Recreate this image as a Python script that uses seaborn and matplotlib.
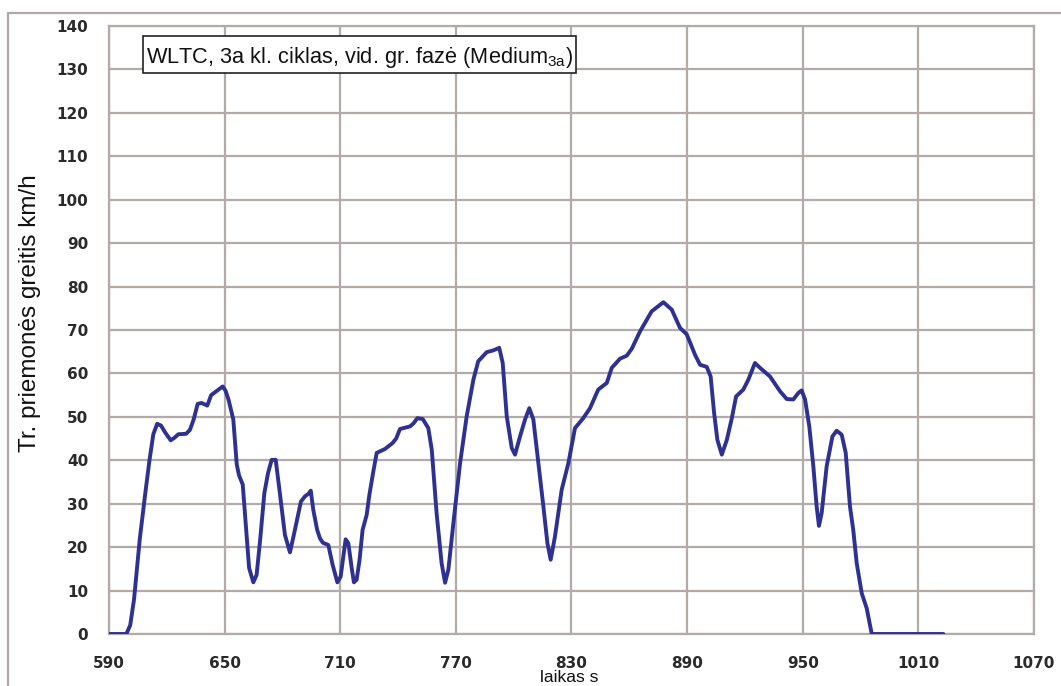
import matplotlib
matplotlib.use("Agg")
import matplotlib.pyplot as plt
from matplotlib.patches import Rectangle
from matplotlib.lines import Line2D
from matplotlib.ticker import MultipleLocator
import seaborn as sns
import pandas as pd

# ---- data ----
time_s = [590, 599, 601, 603, 606, 609, 611, 613, 615, 617, 619, 622, 624, 626, 630,
          632, 634, 636, 638, 641, 643, 646, 649, 650.5, 652, 654.5, 656.3, 657.5, 659.4,
          661, 662.7, 664.9, 666.6, 668.5, 670.6, 672.5, 674.4, 676.5, 678.5, 681.3, 683.9,
          686, 689.6, 691.7, 693.5, 694.7, 696, 698, 699.5, 701, 703.8, 706, 708.5, 710.2,
          712.8, 714.2, 716, 717.1, 718.5, 720, 721.6, 723.7, 725.1, 727, 728.9, 733.2,
          737.2, 739, 741, 746.2, 748, 750, 752.8, 755.7, 757.5, 760, 762.6, 764.4, 766.1,
          768.7, 772.2, 775.6, 779.1, 781.6, 786, 789.4, 792.5, 794.3, 796.4, 799, 800.7,
          803.3, 805.9, 808.1, 810.2, 812.8, 815.4, 817.5, 819.2, 821.4, 824.9, 828.4,
          831.8, 836.1, 839.6, 843.9, 848.3, 850.9, 855.2, 858.7, 861.3, 865.6, 871.6,
          877.7, 882, 886.3, 889.8, 894.1, 896.7, 900.2, 902.2, 904, 905.7, 908, 910.6,
          913.2, 915.4, 919.2, 921.8, 925.2, 927.8, 933, 938.2, 941.7, 945.1, 947.7, 949.4,
          951.2, 953.4, 955.5, 957.2, 958.4, 959.8, 962.4, 965.4, 967.6, 970.2, 972.3,
          974.5, 976.2, 978, 980.6, 983.2, 985.8, 1023]
speed_kmh = [0, 0, 2, 8, 22, 33, 40, 46, 48.4, 48, 46.5, 44.6, 45.2, 46, 46.1,
             47, 49.5, 53, 53.2, 52.6, 55, 56, 57, 56, 54, 49.4, 39, 36.5, 34.4,
             25, 15.2, 11.9, 13.6, 22, 32.4, 37, 40.1, 40.1, 33, 22.8, 18.8,
             23, 30.5, 31.7, 32.3, 33, 28.6, 24, 22, 21, 20.5, 16, 11.9, 13.2,
             21.8, 20.9, 15, 11.9, 12.5, 17, 24, 27.4, 32, 37, 41.7, 42.6,
             44, 45, 47.2, 47.8, 48.5, 49.7, 49.5, 47.4, 42.4, 27.8, 16.3, 11.8, 14.8,
             25.5, 39.4, 50.1, 58.6, 62.8, 64.9, 65.3, 65.9, 62.4, 50.1, 42.8, 41.3,
             45.5, 49.4, 52, 49.4, 39.4, 29.4, 20.9, 17.1, 22.4, 33.2, 39.4,
             47.4, 49.7, 52, 56.3, 57.8, 61.3, 63.4, 64.1, 65.7, 69.7, 74.3,
             76.4, 74.7, 70.5, 69, 64.3, 62, 61.5, 59.3, 50.9, 44.7, 41.3, 44.7,
             49.7, 54.7, 56.3, 58.6, 62.4, 61.3, 59.3, 55.9, 54.1, 54, 55.5, 56.1,
             54, 47.8, 38.6, 29.4, 24.9, 27.8, 38.6, 45.5, 46.8, 45.9, 41.7,
             29.4, 24, 16.3, 9.4, 5.9, 0, 0]
x_ticks = [590, 650, 710, 770, 830, 890, 950, 1010, 1070]
y_ticks = [0, 10, 20, 30, 40, 50, 60, 70, 80, 90, 100, 110, 120, 130, 140]
title_text = "WLTC, 3a kl. ciklas, vid. gr. fazė (Medium$_{\\mathregular{3a}}$)"
x_label = "laikas s"
y_label = "Tr. priemonės greitis km/h"

# ---- styling ----
sns.set_style("white")
plt.rcParams["font.family"] = ["Liberation Sans", "DejaVu Sans"]
plt.rcParams["mathtext.default"] = "regular"

W, H = 1061, 686
GRID = "#b3aba8"
LINE = "#2e3192"

fig = plt.figure(figsize=(W / 100, H / 100), dpi=100)
ax = fig.add_axes([109 / W, 1 - 634 / H, (1034 - 109) / W, (634 - 26) / H])

df = pd.DataFrame({"t": time_s, "v": speed_kmh})
sns.lineplot(data=df, x="t", y="v", ax=ax, color=LINE, linewidth=2.8,
             sort=False, estimator=None, zorder=5)
for l in ax.lines:
    l.set_solid_joinstyle("round")
    l.set_solid_capstyle("round")

ax.set_xlim(590, 1070)
ax.set_ylim(0, 140)
ax.set_xticks(x_ticks)
ax.set_yticks(y_ticks)
ax.xaxis.set_minor_locator(MultipleLocator(10))
ax.yaxis.set_minor_locator(MultipleLocator(2))
ax.grid(True, which="major", color=GRID, linewidth=1.6)
ax.set_axisbelow(True)
for s in ax.spines.values():
    s.set_color(GRID)
    s.set_linewidth(1.6)

tick_font = dict(family=["DejaVu Sans"], weight="bold", size=11)
ax.set_xticklabels([str(v) for v in x_ticks], **tick_font, color="#2a2a2a")
ax.set_yticklabels([str(v) for v in y_ticks], **tick_font, color="#2a2a2a")

ax.tick_params(axis="x", which="major", direction="out", length=5.5, width=1.6,
               color=GRID, pad=10)
ax.tick_params(axis="x", which="minor", direction="inout", length=6, width=1.3,
               color=GRID)
ax.tick_params(axis="y", which="major", direction="inout", length=6, width=1.3,
               color=GRID, pad=12)
ax.tick_params(axis="y", which="minor", direction="inout", length=6, width=1.3,
               color=GRID)
ax.set_xlabel("")
ax.set_ylabel("")

# axis labels
fig.text(569 / W, 1 - 682 / H, x_label, ha="center", va="baseline", fontsize=12.5,
         color="#111111")
fig.text(30 / W, 1 - 313 / H, y_label, ha="center", va="center", rotation=90,
         fontsize=17.5, color="#111111")

# title box
fig.patches.append(Rectangle((143 / W, 1 - 73 / H), 433 / W, 37.5 / H,
                             transform=fig.transFigure, facecolor="white",
                             edgecolor="#222222", linewidth=1.2, zorder=10))
fig.text(146 / W, 1 - 62.7 / H, title_text, ha="left", va="baseline", fontsize=15.7,
         color="#111111", zorder=11)

# outer chart frame
fig.lines.append(Line2D([8 / W, 1.0], [1 - 13 / H, 1 - 13 / H], transform=fig.transFigure,
                        color="#b0a8a6", linewidth=1.6))
fig.lines.append(Line2D([8 / W, 8 / W], [1 - 13 / H, 0.0], transform=fig.transFigure,
                        color="#b0a8a6", linewidth=1.6))

fig.savefig("out.png", dpi=100)
